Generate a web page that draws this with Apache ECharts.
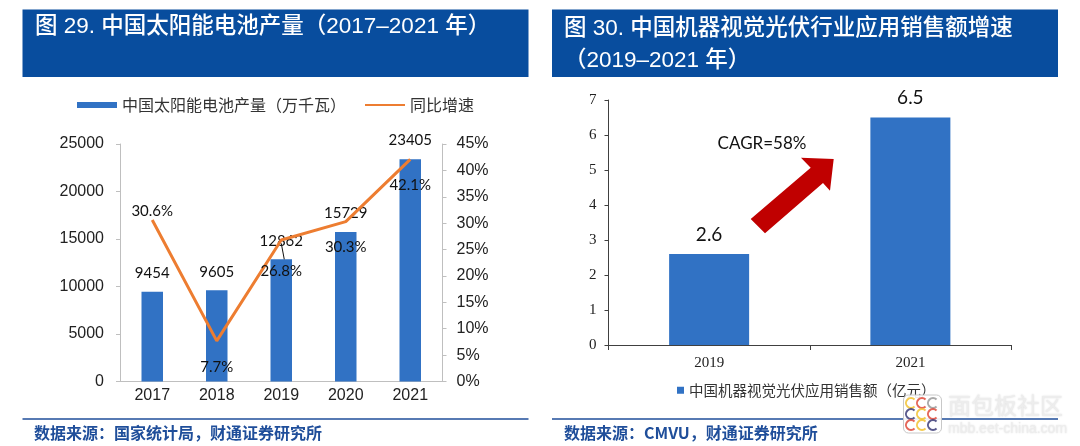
<!DOCTYPE html>
<html><head><meta charset="utf-8">
<script src="https://cdn.jsdelivr.net/npm/echarts@6/dist/echarts.min.js"></script>
<style>html,body{margin:0;padding:0;background:#fff}#c{width:1080px;height:446px}</style>
</head><body><div id="c"></div>
<script>
// ---- data ----
const leftCategories = ['2017', '2018', '2019', '2020', '2021'];
const productionValues = [9454, 9605, 12862, 15729, 23405];
const growthValues = [30.6, 7.7, 26.8, 30.3, 42.1];
const rightCategories = ['2019', '2021'];
const salesValues = [2.6, 6.5];

const productionName = '中国太阳能电池产量（万千瓦）';
const growthName = '同比增速';
const salesName = '中国机器视觉光伏应用销售额（亿元）';
const leftTitle = '图 29. 中国太阳能电池产量（2017–2021 年）';
const rightTitle1 = '图 30. 中国机器视觉光伏行业应用销售额增速';
const rightTitle2 = '（2019–2021 年）';
const leftSource = '数据来源：国家统计局，财通证券研究所';
const rightSource = '数据来源：CMVU，财通证券研究所';
const cagrText = 'CAGR=58%';

// ---- styles (label placement, not data) ----
const growthLabelPlace = [['top', 1], ['bottom', 18], ['bottom', 23], ['bottom', 18], ['bottom', 18]];

const BLUE = '#3172C4';
const ORANGE = '#ED7D31';
const NAVY = '#084D9E';
const SRC = '#1F4E9A';
const CJK = '"Noto Sans CJK SC", "Noto Sans", sans-serif';
const TITLE = '"Liberation Sans", "Noto Sans CJK SC", sans-serif';
const SANS = '"Liberation Sans", Arial, sans-serif';
const SERIF = '"Liberation Serif", "Times New Roman", serif';
const LABEL = 'Lato, "Open Sans", sans-serif';

const chart = echarts.init(document.getElementById('c'), null, {renderer: 'canvas'});

const growthData = growthValues.map((v, i) => ({
  value: v,
  label: {position: growthLabelPlace[i][0], distance: growthLabelPlace[i][1]}
}));

const titleStyle = {fill: '#fff', fontSize: 22.5, fontWeight: 500, fontFamily: TITLE, verticalAlign: 'middle'};

const graphics = [
  {type: 'rect', shape: {x: 22.5, y: 9.5, width: 506, height: 67.5}, style: {fill: NAVY}},
  {type: 'rect', shape: {x: 552, y: 9.5, width: 506, height: 67.5}, style: {fill: NAVY}},
  {type: 'text', x: 35, y: 27, style: Object.assign({text: leftTitle}, titleStyle)},
  {type: 'text', x: 564, y: 29, style: Object.assign({text: rightTitle1}, titleStyle)},
  {type: 'text', x: 564, y: 61, style: Object.assign({text: rightTitle2}, titleStyle)},
  {type: 'line', shape: {x1: 22.5, y1: 419, x2: 528.5, y2: 419}, style: {stroke: SRC, lineWidth: 1.5}},
  {type: 'line', shape: {x1: 552, y1: 419, x2: 1058, y2: 419}, style: {stroke: SRC, lineWidth: 1.5}},
  {type: 'text', x: 34, y: 432.5, style: {text: leftSource, fill: SRC, fontSize: 16, fontWeight: 'bold', fontFamily: CJK, verticalAlign: 'middle'}},
  {type: 'text', x: 564, y: 433, style: {text: rightSource, fill: SRC, fontSize: 16, fontWeight: 'bold', fontFamily: CJK, verticalAlign: 'middle'}},
  // CAGR annotation
  {type: 'text', x: 762, y: 144, style: {text: cagrText, fill: '#111', fontSize: 17, fontFamily: LABEL, align: 'center', verticalAlign: 'middle'}},
  {type: 'polygon', shape: {points: [[750.7, 219], [810.7, 167.7], [801, 157.7], [833.7, 159], [830, 190.7], [823, 183], [765, 233.3]]}, style: {fill: '#C00000'}},
  // watermark
  {type: 'rect', shape: {x: 903.5, y: 395, width: 38, height: 38, r: 5}, style: {fill: 'rgba(255,255,255,0.9)', stroke: '#C8C8C8', lineWidth: 1}, z: 50},
  {type: 'text', x: 948, y: 405, style: {text: '面包板社区', fill: '#EDEDED', fontSize: 23, fontFamily: CJK, verticalAlign: 'middle', textShadowColor: 'rgba(0,0,0,0.15)', textShadowBlur: 2}, z: 50},
  {type: 'text', x: 948, y: 429, style: {text: 'mbb.eet-china.com', fill: '#EDEDED', fontSize: 14, fontFamily: SANS, verticalAlign: 'middle', textShadowColor: 'rgba(0,0,0,0.15)', textShadowBlur: 2}, z: 50}
];
// logo arcs in watermark
const logoColors = [['#F2C231', '#E04B3C', '#9A9A9A'], ['#3C3C78', '#F2C231', '#E04B3C'], ['#E04B3C', '#F2C231', '#3C3C78']];
for (let r = 0; r < 3; r++) {
  for (let c = 0; c < 3; c++) {
    graphics.push({type: 'arc', z: 51, shape: {cx: 911 + c * 11, cy: 403 + r * 11, r: 5, startAngle: Math.PI * 0.25, endAngle: Math.PI * 1.75},
      style: {stroke: logoColors[r][c], lineWidth: 2, fill: 'none', opacity: 0.85}});
  }
}

const option = {
  animation: false,
  backgroundColor: '#fff',
  textStyle: {fontFamily: SANS},
  legend: [
    {
      left: 77, top: 97, padding: 0, itemWidth: 40, itemHeight: 6, itemGap: 18,
      textStyle: {fontSize: 16, color: '#333', fontFamily: CJK},
      data: [{name: productionName, icon: 'rect'}, {name: growthName}]
    },
    {
      left: 677, top: 383, padding: 0, itemWidth: 7, itemHeight: 7, itemGap: 10,
      textStyle: {fontSize: 14.5, color: '#333', fontFamily: CJK},
      data: [{name: salesName, icon: 'rect'}]
    }
  ],
  grid: [
    {left: 120, right: 637.5, top: 144, bottom: 64.5},
    {left: 608.5, right: 69, top: 100, bottom: 101}
  ],
  xAxis: [
    {
      type: 'category', gridIndex: 0, data: leftCategories,
      axisLine: {lineStyle: {color: '#BFBFBF', width: 1}},
      axisTick: {show: false},
      axisLabel: {fontSize: 16, color: '#222', fontFamily: SANS, margin: 6}
    },
    {
      type: 'category', gridIndex: 1, data: rightCategories,
      axisLine: {lineStyle: {color: '#404040', width: 1}},
      axisTick: {show: true, alignWithLabel: false, length: 5, lineStyle: {color: '#404040'}},
      axisLabel: {fontSize: 15, color: '#222', fontFamily: SERIF, margin: 11}
    }
  ],
  yAxis: [
    {
      type: 'value', gridIndex: 0, min: 0, max: 25000, interval: 5000,
      axisLine: {show: true, lineStyle: {color: '#BFBFBF'}},
      axisTick: {show: true, length: 4, lineStyle: {color: '#BFBFBF'}},
      splitLine: {show: false},
      axisLabel: {fontSize: 16, color: '#222', fontFamily: SANS, margin: 16, formatter: v => String(v)}
    },
    {
      type: 'value', gridIndex: 0, position: 'right', min: 0, max: 45, interval: 5,
      axisLine: {show: true, lineStyle: {color: '#BFBFBF'}},
      axisTick: {show: true, length: 4, lineStyle: {color: '#BFBFBF'}},
      splitLine: {show: false},
      axisLabel: {fontSize: 16, color: '#222', fontFamily: SANS, margin: 14, formatter: '{value}%'}
    },
    {
      type: 'value', gridIndex: 1, min: 0, max: 7, interval: 1,
      axisLine: {show: true, lineStyle: {color: '#404040'}},
      axisTick: {show: true, length: 4, lineStyle: {color: '#404040'}},
      splitLine: {show: false},
      axisLabel: {fontSize: 15, color: '#222', fontFamily: SERIF, margin: 12}
    }
  ],
  series: [
    {
      name: productionName, type: 'bar', xAxisIndex: 0, yAxisIndex: 0,
      data: productionValues, barWidth: 21.5,
      itemStyle: {color: BLUE},
      label: {show: true, position: 'top', distance: 11, fontSize: 15, color: '#111', fontFamily: LABEL},
      z: 2
    },
    {
      name: growthName, type: 'line', xAxisIndex: 0, yAxisIndex: 1,
      data: growthData, symbol: 'circle', symbolSize: 1, showSymbol: true,
      lineStyle: {color: ORANGE, width: 3},
      itemStyle: {color: 'rgba(0,0,0,0)'},
      label: {show: true, fontSize: 15, color: '#111', fontFamily: LABEL, formatter: p => p.value + '%'},
      z: 3
    },
    {
      name: salesName, type: 'bar', xAxisIndex: 1, yAxisIndex: 2,
      data: salesValues, barWidth: 80,
      itemStyle: {color: BLUE},
      label: {show: true, position: 'top', distance: 10, fontSize: 19, color: '#111', fontFamily: LABEL},
      z: 2
    }
  ],
  graphic: {elements: graphics}
};

chart.setOption(option);

// leader line for the 2019 production label
const leaderIdx = 2;
const barTop = chart.convertToPixel({xAxisIndex: 0, yAxisIndex: 0}, [leftCategories[leaderIdx], productionValues[leaderIdx]]);
chart.setOption({
  graphic: {elements: [{id: 'leader', type: 'line', z: 10,
    shape: {x1: barTop[0] + 3, y1: barTop[1], x2: barTop[0], y2: barTop[1] - 16},
    style: {stroke: '#111', lineWidth: 1}}]}
});
</script>
</body></html>
